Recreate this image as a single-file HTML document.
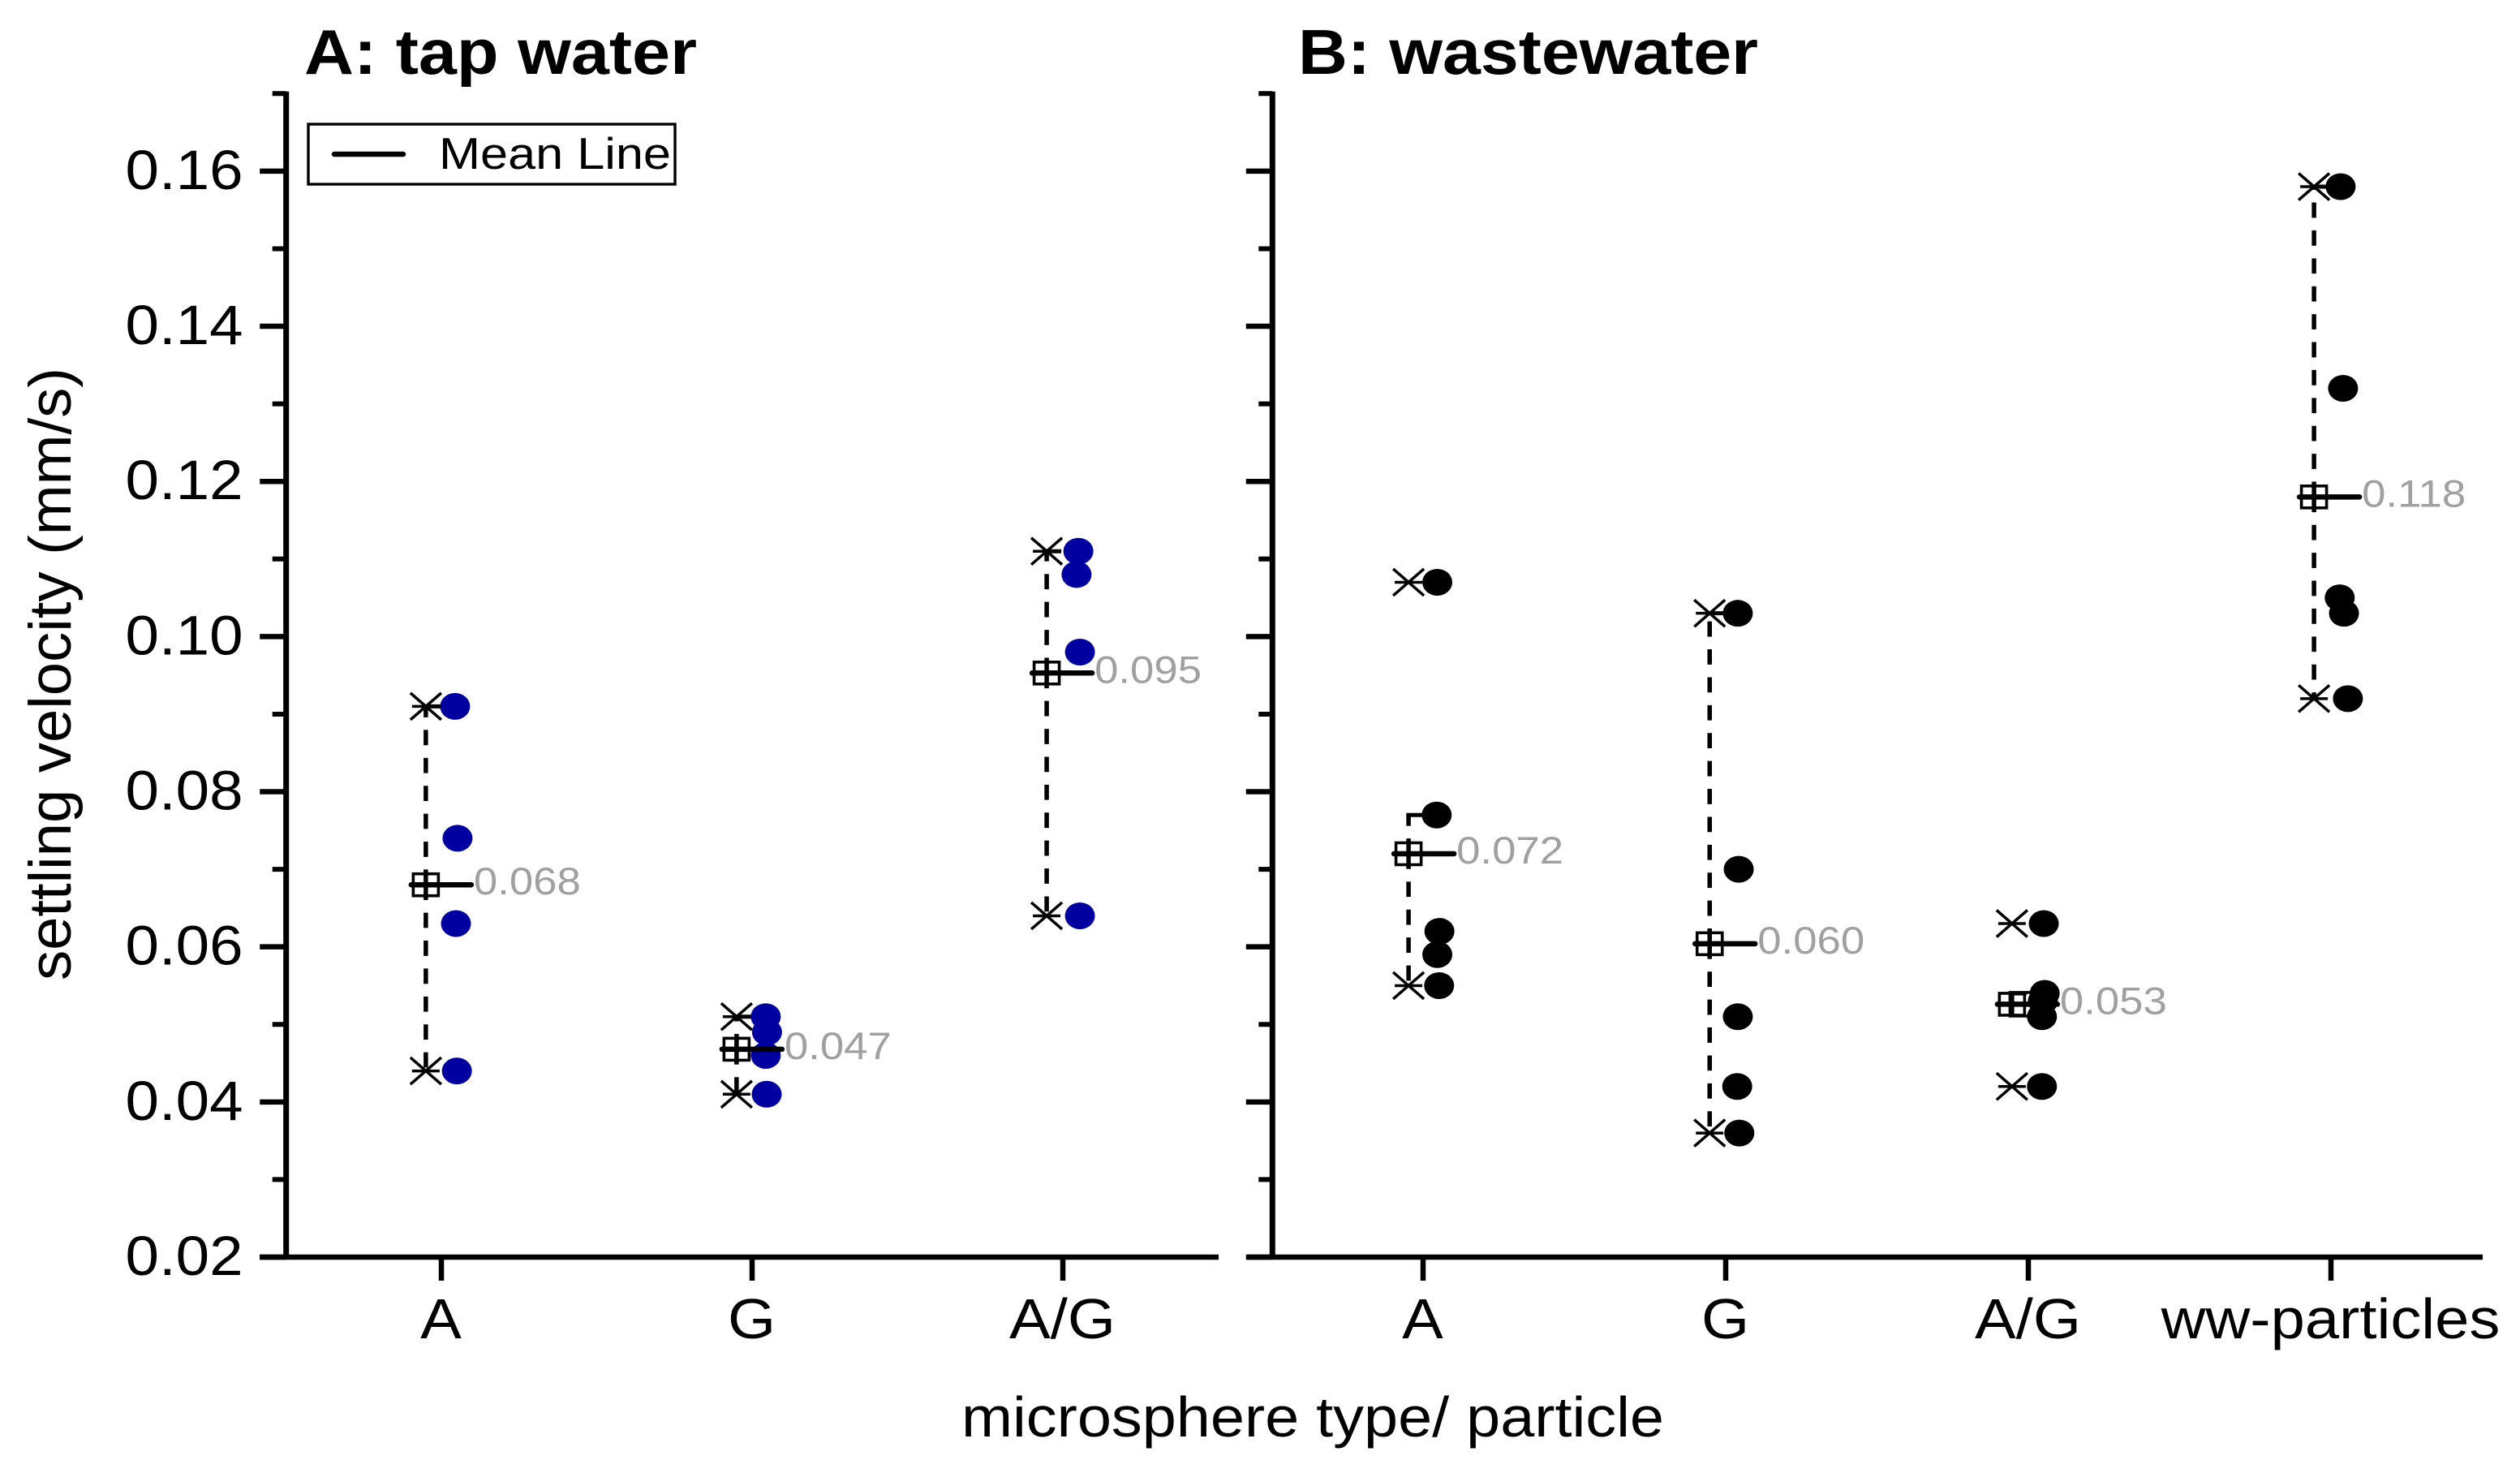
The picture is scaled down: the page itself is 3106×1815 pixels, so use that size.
<!DOCTYPE html>
<html lang="en">
<head>
<meta charset="utf-8">
<title>Settling velocity of microspheres and particles</title>
<style>
html,body{margin:0;padding:0;background:#fff;}
svg{display:block;}
text{font-family:"Liberation Sans",Arial,sans-serif;}
</style>
</head>
<body>
<svg id="chart" xmlns="http://www.w3.org/2000/svg" width="3106" height="1815" viewBox="0 0 3106 1815">
  <rect x="0" y="0" width="3106" height="1815" fill="#ffffff"/>
  <text x="375" y="91" font-size="78" font-weight="700" textLength="484" lengthAdjust="spacingAndGlyphs">A: tap water</text>
  <text x="1600" y="91" font-size="78" font-weight="700" textLength="567" lengthAdjust="spacingAndGlyphs">B: wastewater</text>
  <text transform="translate(87,1208) rotate(-90)" x="0" y="0" font-size="73" textLength="755" lengthAdjust="spacingAndGlyphs">settling velocity (mm/s)</text>
  <text x="1185" y="1770" font-size="70" textLength="866" lengthAdjust="spacingAndGlyphs">microsphere type/ particle</text>
  <g id="plot"></g>
  <g>
    <rect x="380" y="153" width="452" height="74" fill="#ffffff" stroke="#000" stroke-width="3.4"/>
    <line x1="412" y1="190" x2="497" y2="190" stroke="#000" stroke-width="6.5" stroke-linecap="round"/>
    <text x="541" y="208" font-size="55" textLength="286" lengthAdjust="spacingAndGlyphs">Mean Line</text>
  </g>
</svg>
<script>
/* ---- shared axis data ---- */
const yMajorTicks = [0.02, 0.04, 0.06, 0.08, 0.10, 0.12, 0.14, 0.16];
const yMajorTickLabels = ['0.02', '0.04', '0.06', '0.08', '0.10', '0.12', '0.14', '0.16'];
const yMinorTicks = [0.03, 0.05, 0.07, 0.09, 0.11, 0.13, 0.15, 0.17];

/* ---- panel A: tap water ---- */
const tapCategories = ['A', 'G', 'A/G'];
const tapValues = [
  [0.091, 0.074, 0.063, 0.044],
  [0.051, 0.049, 0.046, 0.041],
  [0.111, 0.108, 0.098, 0.064]
];
const tapJitter = [
  [0.044, 0.052, 0.047, 0.050],
  [0.044, 0.048, 0.044, 0.047],
  [0.050, 0.044, 0.055, 0.055]
];
const tapMeans = [0.068, 0.0468, 0.0953];
const tapMeanLabels = ['0.068', '0.047', '0.095'];
const tapMeanCategoryX = [0.950, 1.950, 2.948];
const tapWhiskerTop = [0.091, 0.051, 0.111];
const tapWhiskerBottom = [0.044, 0.041, 0.064];
const tapExtraBoxCategoryX = [null, null, null];

/* ---- panel B: wastewater ---- */
const wwCategories = ['A', 'G', 'A/G', 'ww-particles'];
const wwValues = [
  [0.107, 0.077, 0.062, 0.059, 0.055],
  [0.103, 0.070, 0.051, 0.042, 0.036],
  [0.063, 0.054, 0.053, 0.051, 0.042],
  [0.158, 0.132, 0.105, 0.103, 0.092]
];
const wwJitter = [
  [0.047, 0.045, 0.054, 0.047, 0.053],
  [0.040, 0.043, 0.040, 0.038, 0.045],
  [0.051, 0.054, 0.048, 0.045, 0.045],
  [0.032, 0.040, 0.029, 0.043, 0.056]
];
const wwMeans = [0.072, 0.0604, 0.0526, 0.118];
const wwMeanLabels = ['0.072', '0.060', '0.053', '0.118'];
const wwMeanCategoryX = [0.952, 1.947, 2.946, 3.944];
const wwWhiskerTop = [0.077, 0.103, 0.054, 0.158];
const wwWhiskerBottom = [0.055, 0.036, 0.051, 0.092];
const wwExtraBoxCategoryX = [null, null, 2.981, null];

const SVG_NS = 'http://www.w3.org/2000/svg';
const plot = document.getElementById('plot');

function yScale(v) { return 1549 - (v - 0.02) * 9558; }
function xScaleA(c) { return 544 + (c - 1) * 383; }
function xScaleB(c) { return 1754 + (c - 1) * 373; }

function mk(tag, attrs, parent) {
  const el = document.createElementNS(SVG_NS, tag);
  for (const k in attrs) el.setAttribute(k, attrs[k]);
  (parent || plot).appendChild(el);
  return el;
}

function stretchedText(str, cx, y, size, factor, anchor, fill, parent) {
  const el = mk('text', { x: cx, y: y, 'font-size': size, fill: fill }, parent);
  el.textContent = str;
  const w = el.getComputedTextLength() * factor;
  let x = cx;
  if (anchor === 'middle') x = cx - w / 2;
  el.setAttribute('x', x);
  el.setAttribute('textLength', w);
  el.setAttribute('lengthAdjust', 'spacingAndGlyphs');
  return el;
}

function drawAxes(prefix, axisX, xLeftEnd, xRightEnd, xScale, categories, showLabels) {
  const g = mk('g', {});
  
  

  const yAxis = mk('line', { x1: axisX, y1: yScale(0.17) - 2.5, x2: axisX, y2: yScale(0.02), stroke: '#000', 'stroke-width': 7 }, g);
  
  

  const xAxis = mk('line', { x1: xLeftEnd, y1: yScale(0.02), x2: xRightEnd, y2: yScale(0.02), stroke: '#000', 'stroke-width': 6.5 }, g);
  
  

  yMajorTicks.forEach(function (v, i) {
    const t = mk('line', { x1: axisX - 32.5, y1: yScale(v), x2: axisX, y2: yScale(v), stroke: '#000', 'stroke-width': 6.5 }, g);
    
    
    if (showLabels) {
      const lab = stretchedText(yMajorTickLabels[i], 154.5, yScale(v) + 22, 69, 1.08, 'start', '#000', g);
      
      
    }
  });
  yMinorTicks.forEach(function (v) {
    const t = mk('line', { x1: axisX - 17, y1: yScale(v), x2: axisX, y2: yScale(v), stroke: '#000', 'stroke-width': 6 }, g);
    
    
  });
  categories.forEach(function (name, i) {
    const cx = xScale(i + 1);
    const t = mk('line', { x1: cx, y1: yScale(0.02), x2: cx, y2: 1578, stroke: '#000', 'stroke-width': 6.5 }, g);
    
    
    const lab = stretchedText(name, cx - 0.5, 1649, 70, 1.085, 'middle', '#000', g);
    
    
  });
}

function drawSeries(prefix, color, xScale, categories, values, jitter, means, meanLabels, meanX, whiskerTop, whiskerBottom, extraBoxX) {
  categories.forEach(function (name, i) {
    const g = mk('g', {});
    
    

    values[i].forEach(function (v, j) {
      const dot = mk('ellipse', { cx: xScale(i + 1 + jitter[i][j]), cy: yScale(v), rx: 18.5, ry: 16.5, fill: color }, g);
      
      
    });

    const bx = xScale(meanX[i]);
    const my = yScale(means[i]);

    [whiskerTop[i], whiskerBottom[i]].forEach(function (end) {
      const w = mk('line', { x1: bx, y1: my, x2: bx, y2: yScale(end), stroke: '#000', 'stroke-width': 5.5, 'stroke-dasharray': '18.8 15.6' }, g);
      
      
    });

    const cap = mk('line', { x1: bx - 2.75, y1: yScale(whiskerTop[i]), x2: bx + 18, y2: yScale(whiskerTop[i]), stroke: '#000', 'stroke-width': 5 }, g);
    
    

    [Math.max.apply(null, values[i]), Math.min.apply(null, values[i])].forEach(function (v) {
      const y = yScale(v);
      const star = mk('path', {
        d: 'M' + (bx - 19) + ' ' + (y - 16.5) + 'L' + (bx + 19) + ' ' + (y + 16.5) +
           'M' + (bx - 19) + ' ' + (y + 16.5) + 'L' + (bx + 19) + ' ' + (y - 16.5) +
           'M' + (bx - 17) + ' ' + y + 'L' + (bx + 17) + ' ' + y,
        fill: 'none', stroke: '#000', 'stroke-width': 3.5
      }, g);
      
      
    });

    const box = mk('rect', { x: bx - 15.5, y: my - 13.5, width: 31, height: 27, fill: 'none', stroke: '#000', 'stroke-width': 3.6 }, g);
    
    

    if (extraBoxX[i] !== null) {
      const ex = xScale(extraBoxX[i]);
      const box2 = mk('rect', { x: ex - 15.5, y: my - 14.5, width: 31, height: 29, fill: 'none', stroke: '#000', 'stroke-width': 3.6 }, g);
      
      
    }

    const ml = mk('line', { x1: bx - 18, y1: my, x2: bx + 56, y2: my, stroke: '#000', 'stroke-width': 6.5, 'stroke-linecap': 'round' }, g);
    
    

    const lab = stretchedText(meanLabels[i], bx + 59, my + 12, 47.5, 1.11, 'start', '#a0a0a0', g);
    
    
  });
}

drawSeries('panel-a', '#0000a0', xScaleA, tapCategories, tapValues, tapJitter, tapMeans, tapMeanLabels, tapMeanCategoryX, tapWhiskerTop, tapWhiskerBottom, tapExtraBoxCategoryX);
drawSeries('panel-b', '#000000', xScaleB, wwCategories, wwValues, wwJitter, wwMeans, wwMeanLabels, wwMeanCategoryX, wwWhiskerTop, wwWhiskerBottom, wwExtraBoxCategoryX);
drawAxes('panel-a', 352.7, 320, 1502, xScaleA, tapCategories, true);
drawAxes('panel-b', 1568.3, 1537, 3060, xScaleB, wwCategories, false);
</script>
</body>
</html>
